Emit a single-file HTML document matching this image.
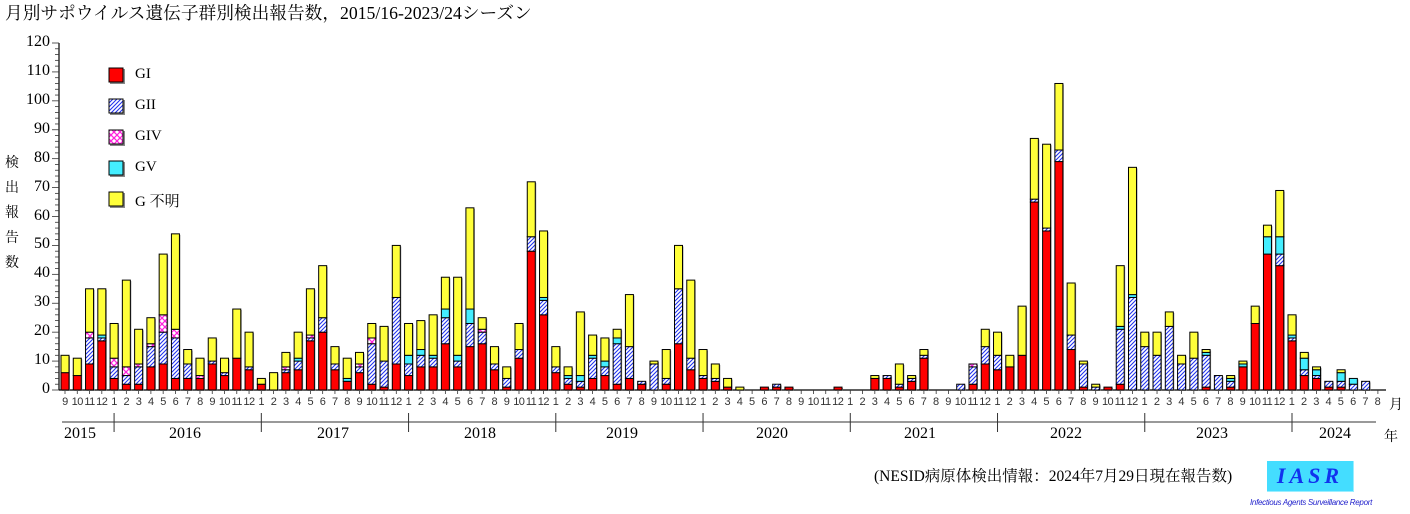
<!DOCTYPE html>
<html><head><meta charset="utf-8">
<style>
body{margin:0;background:#fff;width:1410px;height:514px;position:relative;overflow:hidden;font-family:"Liberation Serif","Noto Serif CJK SC",serif;color:#000}
.abs{position:absolute;white-space:nowrap}
#months{position:absolute;left:58.87px;top:396px;display:flex;font-family:"Liberation Sans","DejaVu Sans",sans-serif;font-size:11px;color:#333;letter-spacing:-0.5px}
#months span{width:12.27px;text-align:center;display:block}
.yl{position:absolute;right:1360px;font-size:16px;text-align:right;width:40px}
.leg{position:absolute;left:135px;font-size:15px}
.yr{position:absolute;font-size:16px}
</style></head><body>
<div class="abs" style="left:5px;top:0px;font-size:17.7px;font-family:'Liberation Serif','Noto Serif CJK SC',serif">月別サポウイルス遺伝子群別検出報告数，2015/16-2023/24シーズン</div>
<svg id="s" width="1410" height="514" style="position:absolute;left:0;top:0">
<defs>
<pattern id="p2" width="4" height="4" patternUnits="userSpaceOnUse"><rect width="4" height="4" fill="#fff"/><path d="M-1,5 L5,-1 M-1,1 L1,-1 M3,5 L5,3" stroke="#2233ee" stroke-width="1.1"/></pattern>
<pattern id="p4" width="6" height="6" patternUnits="userSpaceOnUse"><rect width="6" height="6" fill="#fff"/><path d="M0,0 L6,6 M6,0 L0,6" stroke="#ff22dd" stroke-width="1.3"/></pattern>
</defs>
<g id="g"></g>
</svg>
<div class="yl" style="top:33px">120</div><div class="yl" style="top:62px">110</div><div class="yl" style="top:91px">100</div><div class="yl" style="top:120px">90</div><div class="yl" style="top:149px">80</div><div class="yl" style="top:178px">70</div><div class="yl" style="top:207px">60</div><div class="yl" style="top:235px">50</div><div class="yl" style="top:264px">40</div><div class="yl" style="top:293px">30</div><div class="yl" style="top:322px">20</div><div class="yl" style="top:351px">10</div><div class="yl" style="top:380px">0</div>
<div class="abs" style="left:5px;top:151px;font-size:14px;line-height:25px;width:16px;white-space:normal">検<br>出<br>報<br>告<br>数</div>
<div class="leg" style="top:66px">GI</div><div class="leg" style="top:97px">GII</div><div class="leg" style="top:128px">GIV</div><div class="leg" style="top:159px">GV</div><div class="leg" style="top:190px">G 不明</div>
<div id="months"><span>9</span><span>10</span><span>11</span><span>12</span><span>1</span><span>2</span><span>3</span><span>4</span><span>5</span><span>6</span><span>7</span><span>8</span><span>9</span><span>10</span><span>11</span><span>12</span><span>1</span><span>2</span><span>3</span><span>4</span><span>5</span><span>6</span><span>7</span><span>8</span><span>9</span><span>10</span><span>11</span><span>12</span><span>1</span><span>2</span><span>3</span><span>4</span><span>5</span><span>6</span><span>7</span><span>8</span><span>9</span><span>10</span><span>11</span><span>12</span><span>1</span><span>2</span><span>3</span><span>4</span><span>5</span><span>6</span><span>7</span><span>8</span><span>9</span><span>10</span><span>11</span><span>12</span><span>1</span><span>2</span><span>3</span><span>4</span><span>5</span><span>6</span><span>7</span><span>8</span><span>9</span><span>10</span><span>11</span><span>12</span><span>1</span><span>2</span><span>3</span><span>4</span><span>5</span><span>6</span><span>7</span><span>8</span><span>9</span><span>10</span><span>11</span><span>12</span><span>1</span><span>2</span><span>3</span><span>4</span><span>5</span><span>6</span><span>7</span><span>8</span><span>9</span><span>10</span><span>11</span><span>12</span><span>1</span><span>2</span><span>3</span><span>4</span><span>5</span><span>6</span><span>7</span><span>8</span><span>9</span><span>10</span><span>11</span><span>12</span><span>1</span><span>2</span><span>3</span><span>4</span><span>5</span><span>6</span><span>7</span><span>8</span></div>
<div class="abs" style="left:1389px;top:394px;font-size:14px">月</div>
<div class="abs" style="left:1384px;top:426px;font-size:14px">年</div>
<div class="yr" style="left:64px;top:425px">2015</div>
<div class="yr" style="left:169px;top:425px">2016</div>
<div class="yr" style="left:317px;top:425px">2017</div>
<div class="yr" style="left:464px;top:425px">2018</div>
<div class="yr" style="left:606px;top:425px">2019</div>
<div class="yr" style="left:756px;top:425px">2020</div>
<div class="yr" style="left:904px;top:425px">2021</div>
<div class="yr" style="left:1050px;top:425px">2022</div>
<div class="yr" style="left:1196px;top:425px">2023</div>
<div class="yr" style="left:1319px;top:425px">2024</div>
<div class="abs" style="left:874px;top:464px;font-size:15.5px">(NESID病原体検出情報：2024年7月29日現在報告数)</div>
<div class="abs" style="left:1267px;top:461px;width:86px;height:30px;background:#44ddff;border-right:1px solid #99eeff;border-bottom:1px solid #99eeff;text-align:center;font:italic bold 22px 'Liberation Serif',serif;color:#1133ee;line-height:30px;letter-spacing:4px">IASR</div>
<div class="abs" style="left:1250px;top:498px;font:italic 8px 'Liberation Sans',sans-serif;color:#2222cc;letter-spacing:-0.3px">Infectious Agents Surveillance Report</div>
<script>
var D=[[6,0,0,0,6],[5,0,0,0,6],[9,9,2,0,15],[17,1,0,1,16],
[4,4,3,0,12],[2,3,3,0,30],[2,6,1,0,12],[8,7,1,0,9],[9,11,6,0,21],[4,14,3,0,33],[4,5,0,0,5],[4,0,1,0,6],[9,1,0,0,8],[5,1,0,0,5],[11,0,0,0,17],[7,1,0,0,12],
[2,0,0,0,2],[0,0,0,0,6],[6,1,1,0,5],[7,3,0,1,9],[17,1,1,0,16],[20,5,0,0,18],[7,2,0,0,6],[3,0,0,1,7],[6,2,1,0,4],[2,14,2,0,5],[1,9,0,0,12],[9,23,0,0,18],
[5,4,0,3,11],[8,4,0,2,10],[8,3,0,1,14],[16,9,0,3,11],[8,2,0,2,27],[15,8,0,5,35],[16,4,1,0,4],[7,2,0,0,6],[1,3,0,0,4],[11,3,0,0,9],[48,5,0,0,19],[26,5,0,1,23],
[6,2,0,0,7],[2,2,0,1,3],[1,2,0,2,22],[4,7,0,1,7],[5,3,0,2,8],[2,14,0,2,3],[4,11,0,0,18],[2,1,0,0,0],[0,9,0,0,1],[2,2,0,0,10],[16,19,0,0,15],[7,4,0,0,27],
[4,1,0,0,9],[3,1,0,0,5],[1,0,0,0,3],[0,0,0,0,1],[0,0,0,0,0],[1,0,0,0,0],[1,1,0,0,0],[1,0,0,0,0],[0,0,0,0,0],[0,0,0,0,0],[0,0,0,0,0],[1,0,0,0,0],
[0,0,0,0,0],[0,0,0,0,0],[4,0,0,0,1],[4,1,0,0,0],[1,1,0,0,7],[3,1,0,0,1],[11,1,0,0,2],[0,0,0,0,0],[0,0,0,0,0],[0,2,0,0,0],[2,6,1,0,0],[9,6,0,0,6],
[7,5,0,0,8],[8,0,0,0,4],[12,0,0,0,17],[65,1,0,0,21],[55,1,0,0,29],[79,4,0,0,23],[14,5,0,0,18],[1,8,0,0,1],[0,1,0,0,1],[1,0,0,0,0],[2,19,0,1,21],[0,32,0,1,44],
[0,15,0,0,5],[0,12,0,0,8],[0,22,0,0,5],[0,9,0,0,3],[0,11,0,0,9],[1,11,0,1,1],[0,5,0,0,0],[1,2,0,1,1],[8,0,0,1,1],[23,0,0,0,6],[47,0,0,6,4],[43,4,0,6,16],
[17,1,0,1,7],[5,2,0,4,2],[4,1,0,2,1],[1,2,0,0,0],[1,2,0,3,1],[0,2,0,2,0],[0,3,0,0,0],[0,0,0,0,0]];
var F=["#ff0000","url(#p2)","url(#p4)","#44eeff","#ffff3a"];
var ns="http://www.w3.org/2000/svg",g=document.getElementById('g');
function el(t,a){var e=document.createElementNS(ns,t);for(var k in a)e.setAttribute(k,a[k]);g.appendChild(e);return e;}
var B=390,U=347/120,X0=65,DX=12.27;
el('line',{x1:59,y1:43,x2:59,y2:390,stroke:'#000','stroke-width':1.2});
for(var v=0;v<=120;v+=2){var y=B-v*U;el('line',{x1:v%10?55:52,y1:y,x2:59,y2:y,stroke:'#333','stroke-width':0.8});}
el('line',{x1:59,y1:390,x2:1386,y2:390,stroke:'#000','stroke-width':1.2});
for(var i=0;i<108;i++){var x=X0+i*DX;el('line',{x1:x,y1:390,x2:x,y2:394,stroke:'#333','stroke-width':0.8});}
el('line',{x1:62,y1:422,x2:1376,y2:422,stroke:'#333','stroke-width':1});
for(var k=0;k<9;k++){var x=X0+(4+12*k)*DX;el('line',{x1:x,y1:413,x2:x,y2:432,stroke:'#333','stroke-width':1});}
D.forEach(function(d,i){var x=X0+i*DX-4,c=0;var tot=d.reduce(function(a,b){return a+b},0);if(!tot)return;
el('rect',{x:x+1,y:B-tot*U+1,width:8,height:tot*U,fill:'#999'});
for(var j=0;j<5;j++){if(!d[j])continue;var h=d[j]*U;el('rect',{x:x,y:B-(c+d[j])*U,width:8,height:h,fill:F[j],stroke:'#000','stroke-width':1});c+=d[j];}
});
[76,107,138,169,200].forEach(function(y,j){el('rect',{x:110,y:y-7,width:15,height:15,fill:'#888'});el('rect',{x:109,y:y-8,width:14,height:14,fill:F[j],stroke:'#000','stroke-width':1});});
</script>
</body></html>
